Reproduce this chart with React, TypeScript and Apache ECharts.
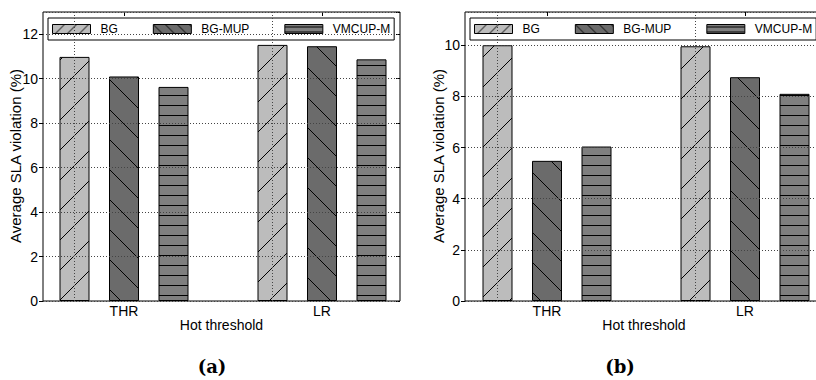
import React, { useEffect, useRef } from "react";
import * as echarts from "echarts";

const categories = ["THR", "LR"];
const seriesNames = ["BG", "BG-MUP", "VMCUP-M"];
// (a)
const aBG = [10.98, 11.52];
const aBGMUP = [10.1, 11.46];
const aVMCUP = [9.63, 10.87];
// (b)
const bBG = [10.0, 9.96];
const bBGMUP = [5.48, 8.75];
const bVMCUP = [6.04, 8.1];
const aYMax = 13;
const bYMax = 11.3;
const yInterval = 2;

const FONT = "Liberation Sans";

function hatch(bg: string, kind: "ne" | "nw" | "h", w: number, h: number) {
  const c = document.createElement("canvas");
  c.width = w;
  c.height = h;
  const ctx = c.getContext("2d")!;
  ctx.fillStyle = bg;
  ctx.fillRect(0, 0, w, h);
  ctx.strokeStyle = "#000";
  ctx.lineWidth = 1;
  ctx.beginPath();
  if (kind === "h") {
    const y = Math.floor(h / 2) + 0.5;
    ctx.moveTo(0, y);
    ctx.lineTo(w, y);
  } else {
    for (const k of [-w, 0, w]) {
      if (kind === "ne") {
        ctx.moveTo(k, h);
        ctx.lineTo(k + w, 0);
      } else {
        ctx.moveTo(k, 0);
        ctx.lineTo(k + w, h);
      }
    }
  }
  ctx.stroke();
  return { image: c, repeat: "repeat", imageWidth: w, imageHeight: h } as any;
}

export default function App() {
  const ref = useRef<HTMLDivElement>(null);
  useEffect(() => {
    document.body.style.margin = "0";
    document.body.style.overflow = "hidden";
    document.documentElement.style.overflow = "hidden";
    const chart = echarts.init(ref.current!, null, { renderer: "svg" });
    const colors = ["#bcbcbc", "#6b6b6b", "#7f7f7f"];
    const barPats = [
      hatch(colors[0], "ne", 30, 30),
      hatch(colors[1], "nw", 30, 30),
      hatch(colors[2], "h", 8, 10),
    ];
    const legPats = [
      hatch(colors[0], "ne", 12, 12),
      hatch(colors[1], "nw", 12, 12),
      hatch(colors[2], "h", 8, 5),
    ];
    const dotted = { type: [1, 2] as any, color: "#444", width: 1 };

    const frameGrid = (left: number, width: number) => ({
      left, top: 12, width, height: 289, show: true,
      borderColor: "#000", borderWidth: 1, backgroundColor: "transparent",
    });
    const barGrid = (left: number) => ({ left, top: 12, width: 396, height: 289 });

    const xAxes: any[] = [];
    const yAxes: any[] = [];
    const mkSub = (fg: number, bg: number, ymax: number) => {
      xAxes.push({ gridIndex: fg, type: "value", show: false, min: 0, max: 1 });
      xAxes.push({
        gridIndex: bg, type: "category", data: categories, position: "bottom",
        axisLine: { show: false },
        axisTick: { show: true, inside: true, alignWithLabel: true, length: 4, lineStyle: { color: "#000" } },
        axisLabel: { fontSize: 14, fontFamily: FONT, color: "#000", margin: 3 },
      });
      xAxes.push({
        gridIndex: bg, type: "category", data: categories, position: "top",
        axisLine: { show: false },
        axisTick: { show: true, inside: true, alignWithLabel: true, length: 4, lineStyle: { color: "#000" } },
        axisLabel: { show: false },
      });
      yAxes.push({
        gridIndex: fg, type: "value", min: 0, max: ymax, interval: yInterval, z: 10,
        axisLine: { show: false },
        axisTick: { show: true, inside: false, length: 4, lineStyle: { color: "#000" } },
        axisLabel: { fontSize: 14, fontFamily: FONT, color: "#000", margin: 5, showMaxLabel: false },
        splitLine: { show: true, lineStyle: dotted },
      });
      yAxes.push({
        gridIndex: fg, type: "value", min: 0, max: ymax, interval: yInterval, position: "right",
        axisLine: { show: false },
        axisTick: { show: true, inside: true, length: 4, lineStyle: { color: "#000" } },
        axisLabel: { show: false },
        splitLine: { show: false },
      });
      yAxes.push({ gridIndex: bg, type: "value", min: 0, max: ymax, show: false });
    };
    mkSub(0, 1, aYMax);
    mkSub(2, 3, bYMax);

    const mkSeries = (vals: number[][], xi: number, yi: number) =>
      vals.map((v, i) => ({
        type: "bar",
        name: seriesNames[i],
        xAxisIndex: xi,
        yAxisIndex: yi,
        data: v,
        barWidth: 30,
        barGap: "65%",
        z: 2,
        itemStyle: { color: barPats[i], borderColor: "#000", borderWidth: 1 },
        markLine: i === 0 ? {
          silent: true, symbol: ["none", "none"], label: { show: false },
          lineStyle: dotted,
          data: [{ xAxis: "THR" }, { xAxis: "LR" }],
        } : undefined,
      }));

    const legend = (left: number) => ({
      left, top: 18, orient: "horizontal",
      itemWidth: 38, itemHeight: 9, itemGap: 35,
      padding: [5, 4, 5, 4],
      borderColor: "#000", borderWidth: 1, backgroundColor: "#fff",
      selectedMode: false,
      icon: "rect",
      textStyle: { fontSize: 12, fontFamily: FONT, color: "#000", padding: [0, 0, 0, 5], lineHeight: 10 },
      data: seriesNames.map((n, i) => ({
        name: n, icon: "rect",
        itemStyle: { color: legPats[i], borderColor: "#000", borderWidth: 1 },
      })),
    });

    const txt = (text: string, x: number, y: number, extra: any = {}) => ({
      type: "text", x, y, ...extra,
      style: {
        text, fontSize: 14, fontFamily: FONT, fill: "#000",
        align: "center", verticalAlign: "middle", ...(extra.style || {}),
      },
    });

    chart.setOption({
      animation: false,
      grid: [frameGrid(43, 357), barGrid(25), frameGrid(465, 358), barGrid(448)],
      xAxis: xAxes,
      yAxis: yAxes,
      legend: [legend(48), legend(470)],
      series: [
        ...mkSeries([aBG, aBGMUP, aVMCUP], 1, 2),
        ...mkSeries([bBG, bBGMUP, bVMCUP], 4, 5),
      ],
      graphic: [
        txt("Average SLA violation (%)", 15.5, 156, { rotation: Math.PI / 2, style: { fontSize: 15 } }),
        txt("Average SLA violation (%)", 438, 156, { rotation: Math.PI / 2, style: { fontSize: 15 } }),
        txt("Hot threshold", 221.5, 325),
        txt("Hot threshold", 644, 325),
        txt("(a)", 212, 366, { style: { fontSize: 18, fontWeight: "bold", fontFamily: "DejaVu Serif" } }),
        txt("(b)", 620, 366, { style: { fontSize: 18, fontWeight: "bold", fontFamily: "DejaVu Serif" } }),
      ],
    });
    return () => chart.dispose();
  }, []);
  return <div ref={ref} style={{ width: 860, height: 380 }} />;
}
